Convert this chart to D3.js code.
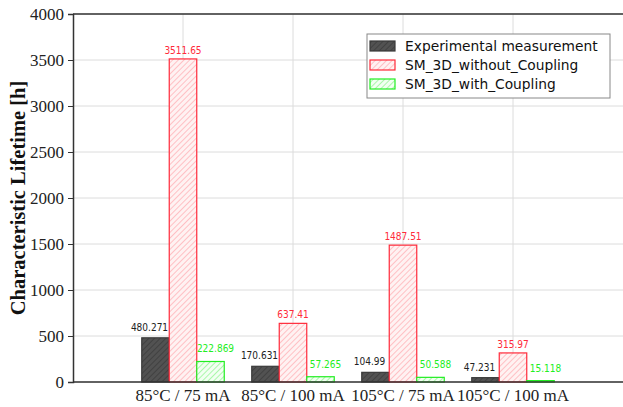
<!DOCTYPE html>
<html>
<head>
<meta charset="utf-8">
<script src="https://cdn.jsdelivr.net/npm/d3@7"></script>
<style>
  body { margin: 0; background: #fff; }
</style>
</head>
<body>
<div id="chart"></div>
<script>
// chart values
var categories = ["85°C / 75 mA", "85°C / 100 mA", "105°C / 75 mA", "105°C / 100 mA"];
var seriesNames = ["Experimental measurement", "SM_3D_without_Coupling", "SM_3D_with_Coupling"];
var experimental = [480.271, 170.631, 104.99, 47.231];
var withoutCoupling = [3511.65, 637.41, 1487.51, 315.97];
var withCoupling = [222.869, 57.265, 50.588, 15.118];
var labelsExp = ["480.271", "170.631", "104.99", "47.231"];
var labelsWithout = ["3511.65", "637.41", "1487.51", "315.97"];
var labelsWith = ["222.869", "57.265", "50.588", "15.118"];
var yTicks = [0, 500, 1000, 1500, 2000, 2500, 3000, 3500, 4000];

var W = 623, H = 407;
var mLeft = 73, mTop = 14, mBottom = 382, mRight = 623;
var serif = "'Liberation Serif', 'Times New Roman', serif";
var sans = "'DejaVu Sans Condensed', 'DejaVu Sans', sans-serif";

var svg = d3.select("#chart").append("svg")
    .attr("width", W).attr("height", H);

var defs = svg.append("defs");
function hatch(id, bg, line) {
  var p = defs.append("pattern").attr("id", id)
      .attr("patternUnits", "userSpaceOnUse")
      .attr("width", 4).attr("height", 4)
      .attr("patternTransform", "rotate(45)");
  p.append("rect").attr("width", 4).attr("height", 4).attr("fill", bg);
  p.append("line").attr("x1", 0).attr("y1", 0).attr("x2", 0).attr("y2", 4)
      .attr("stroke", line).attr("stroke-width", 1.6);
}
hatch("h0", "#525252", "#3c3c3c");
hatch("h1", "#fff2f2", "#ffb3b8");
hatch("h2", "#f2fff2", "#99f599");

var colors = [
  { fill: "url(#h0)", stroke: "#3a3a3a", text: "#222", dx: -6, dy: -7 },
  { fill: "url(#h1)", stroke: "#ff2a3a", text: "#ff2a3a", dx: 0, dy: -5 },
  { fill: "url(#h2)", stroke: "#22ee22", text: "#22ee22", dx: 5, dy: -9 }
];

var x = d3.scaleLinear().domain([0, 5]).range([mLeft, mRight]);
var y = d3.scaleLinear().domain([0, 4000]).range([mBottom, mTop]);

// grid
svg.append("g").selectAll("line").data(yTicks).enter().append("line")
    .attr("x1", mLeft).attr("x2", mRight)
    .attr("y1", function(d) { return y(d); }).attr("y2", function(d) { return y(d); })
    .attr("stroke", "#dcdcdc").attr("stroke-width", 1);
svg.append("g").selectAll("line").data(categories).enter().append("line")
    .attr("x1", function(d, i) { return x(i + 1); }).attr("x2", function(d, i) { return x(i + 1); })
    .attr("y1", mTop).attr("y2", mBottom)
    .attr("stroke", "#dcdcdc").attr("stroke-width", 1);

// bars
var series = [experimental, withoutCoupling, withCoupling];
var labels = [labelsExp, labelsWithout, labelsWith];
var bw = 0.25;
var barG = svg.append("g"), labG = svg.append("g");
series.forEach(function(vals, s) {
  var off = (s - 1) * bw;
  barG.append("g").selectAll("rect").data(vals).enter().append("rect")
      .attr("x", function(d, i) { return x(i + 1 + off - bw / 2); })
      .attr("width", x(bw) - x(0))
      .attr("y", function(d) { return y(d); })
      .attr("height", function(d) { return mBottom - y(d); })
      .attr("fill", colors[s].fill)
      .attr("stroke", colors[s].stroke).attr("stroke-width", 1.2);
  labG.append("g").selectAll("text").data(vals).enter().append("text")
      .attr("x", function(d, i) { return x(i + 1 + off) + colors[s].dx; })
      .attr("y", function(d) { return y(d) + colors[s].dy; })
      .attr("text-anchor", "middle")
      .style("font-family", sans)
      .style("font-size", "10px")
      .attr("fill", colors[s].text)
      .text(function(d, i) { return labels[s][i]; });
});

// axes
var yaxis = d3.axisLeft(y).tickValues(yTicks).tickSize(5).tickFormat(d3.format("d"));
var ya = svg.append("g").attr("transform", "translate(" + mLeft + ",0)").call(yaxis);
ya.select(".domain").attr("stroke", "#333").attr("stroke-width", 1.5);
ya.selectAll(".tick line").attr("stroke", "#333");
ya.selectAll("text").style("font-family", serif)
    .style("font-size", "17px").attr("fill", "#222").attr("dx", "-1");

svg.append("line").attr("x1", mLeft).attr("x2", mRight).attr("y1", mBottom).attr("y2", mBottom)
    .attr("stroke", "#333").attr("stroke-width", 1.5);
svg.append("line").attr("x1", mLeft).attr("x2", mRight).attr("y1", mTop).attr("y2", mTop)
    .attr("stroke", "#333").attr("stroke-width", 1.5);

svg.append("g").selectAll("text").data(categories).enter().append("text")
    .attr("x", function(d, i) { return x(i + 1); })
    .attr("y", 401)
    .attr("text-anchor", "middle")
    .style("font-family", serif)
    .style("font-size", "17px").attr("fill", "#222")
    .text(function(d) { return d; });

svg.append("text")
    .attr("transform", "translate(25," + ((mTop + mBottom) / 2) + ") rotate(-90)")
    .attr("text-anchor", "middle")
    .style("font-family", serif)
    .style("font-weight", "bold").style("font-size", "20.5px").attr("fill", "#111")
    .text("Characteristic Lifetime [h]");

// legend
var lg = svg.append("g").attr("transform", "translate(367,34)");
lg.append("rect").attr("width", 243).attr("height", 64)
    .attr("fill", "#fff").attr("stroke", "#888").attr("stroke-width", 1);
seriesNames.forEach(function(n, i) {
  var yy = 12 + i * 19;
  lg.append("rect").attr("x", 3).attr("y", yy - 5).attr("width", 25).attr("height", 10)
      .attr("fill", colors[i].fill).attr("stroke", colors[i].stroke).attr("stroke-width", 1.2);
  lg.append("text").attr("x", 38).attr("y", yy + 5)
      .style("font-family", "'DejaVu Sans', Verdana, sans-serif")
      .style("font-size", "13.8px").attr("fill", "#111")
      .text(n);
});
</script>
</body>
</html>
